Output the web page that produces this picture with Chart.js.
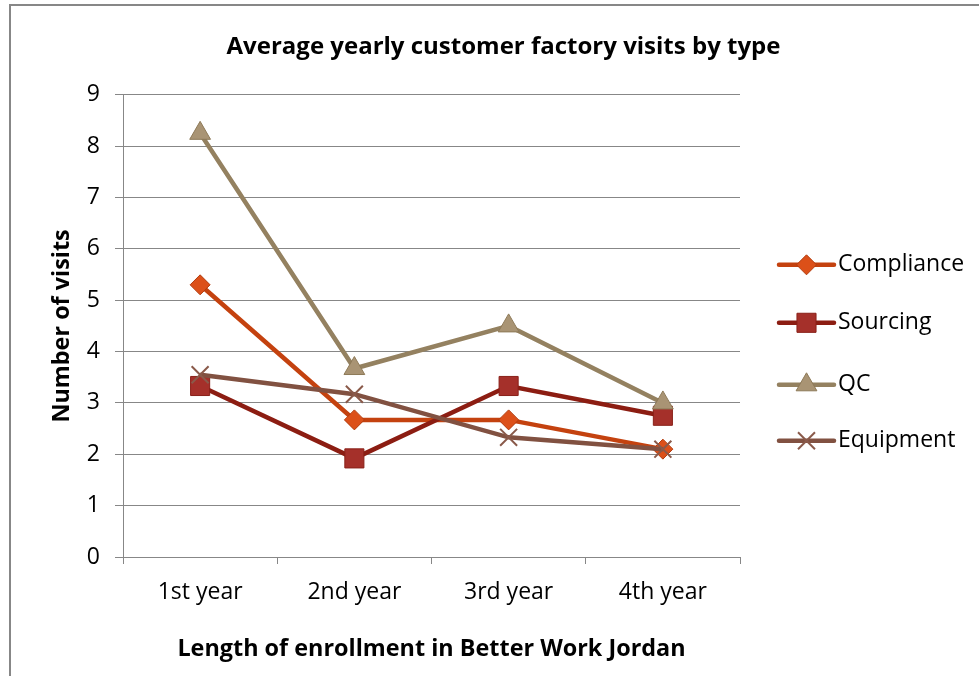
<!DOCTYPE html>
<html>
<head>
<meta charset="utf-8">
<script src="https://cdn.jsdelivr.net/npm/chart.js@4/dist/chart.umd.min.js"></script>
<style>
  html, body { margin: 0; padding: 0; background: #ffffff; overflow: hidden; }
  #frame {
    position: absolute; left: 9px; top: 4px;
    width: 985px; height: 690px;
    border: 2px solid #878787;
    background: #ffffff;
  }
  #chart { display: block; }
</style>
</head>
<body>
<div id="frame"><canvas id="chart" width="985" height="690"></canvas></div>
<script>
// Average yearly customer factory visits, by visit type and length of enrollment
const years = ['1st year', '2nd year', '3rd year', '4th year'];
const compliance = [5.3, 2.67, 2.67, 2.1];
const sourcing = [3.33, 1.92, 3.33, 2.75];
const qc = [8.25, 3.67, 4.5, 3.0];
const equipment = [3.55, 3.17, 2.33, 2.1];
const seriesNames = ['Compliance', 'Sourcing', 'QC', 'Equipment'];

const FONT = '"Open Sans", sans-serif';
const GRID = '#878787';
const TICK_SIZE = 23;
const AXIS_TITLE_SIZE = 23.4;
const TITLE_SIZE = 24;

const styles = [
  { line: '#C4420F', fill: '#DC5019', edge: '#B23C0E', shape: 'rectRot', r: 10, bw: 1 },
  { line: '#8C1D12', fill: '#A5302A', edge: '#8A2119', shape: 'rect', r: 13.5, bw: 1 },
  { line: '#948160', fill: '#A99474', edge: '#8E7A58', shape: 'triangle', r: 12, bw: 1 },
  { line: '#815141', fill: '#8A5A4A', edge: '#8A5A4A', shape: 'crossRot', r: 12, bw: 2 }
];
const values = [compliance, sourcing, qc, equipment];

const datasets = values.map((v, i) => ({
  label: seriesNames[i],
  data: v,
  yAxisID: 'y',
  borderColor: styles[i].line,
  borderWidth: 4.5,
  pointStyle: styles[i].shape,
  pointRadius: styles[i].r,
  pointHoverRadius: styles[i].r,
  pointBackgroundColor: styles[i].fill,
  pointBorderColor: styles[i].edge,
  pointBorderWidth: styles[i].bw,
  tension: 0,
  fill: false,
  order: values.length - i
}));

// Legend on the right: a line segment with the series marker, then the name
const sideLegend = {
  id: 'sideLegend',
  afterDraw(chart) {
    const { ctx, chartArea } = chart;
    const x0 = chartArea.right + 39;
    const len = 55;
    const rows = [170, 228, 290, 346];
    chart.data.datasets.forEach((ds, i) => {
      const y = chartArea.top + rows[i];
      ctx.save();
      ctx.strokeStyle = ds.borderColor;
      ctx.lineWidth = 4.5;
      ctx.lineCap = 'round';
      ctx.beginPath();
      ctx.moveTo(x0, y);
      ctx.lineTo(x0 + len, y);
      ctx.stroke();
      ctx.lineCap = 'butt';
      ctx.fillStyle = ds.pointBackgroundColor;
      ctx.strokeStyle = ds.pointBorderColor;
      ctx.lineWidth = ds.pointBorderWidth;
      Chart.helpers.drawPoint(ctx, {
        pointStyle: ds.pointStyle,
        radius: ds.pointRadius,
        borderWidth: ds.pointBorderWidth
      }, x0 + len / 2, y);
      ctx.fillStyle = '#000000';
      ctx.font = TICK_SIZE + 'px ' + FONT;
      ctx.textAlign = 'left';
      ctx.textBaseline = 'middle';
      ctx.fillText(ds.label, x0 + len + 4, y);
      ctx.restore();
    });
  }
};

new Chart(document.getElementById('chart'), {
  type: 'line',
  data: { labels: years, datasets },
  options: {
    responsive: false,
    animation: false,
    layout: { padding: 0 },
    plugins: {
      legend: { display: false },
      tooltip: { enabled: false },
      title: {
        display: true,
        text: 'Average yearly customer factory visits by type',
        color: '#000000',
        font: { family: FONT, size: TITLE_SIZE, weight: 'bold', lineHeight: 1.2 },
        padding: { top: 27, bottom: 33 }
      }
    },
    scales: {
      x: {
        offset: true,
        grid: {
          offset: true,
          drawOnChartArea: false,
          drawTicks: true,
          tickLength: 7,
          color: GRID
        },
        border: { color: GRID, width: 1 },
        ticks: {
          color: '#000000',
          padding: 15,
          maxRotation: 0,
          font: { family: FONT, size: TICK_SIZE }
        },
        title: {
          display: true,
          text: 'Length of enrollment in Better Work Jordan',
          color: '#000000',
          font: { family: FONT, size: AXIS_TITLE_SIZE, weight: 'bold', lineHeight: 1.2 },
          padding: { top: 0, bottom: 33 }
        },
        afterFit(scale) { scale.height = 139; }
      },
      y: {
        position: 'left',
        min: 0,
        max: 9,
        grid: {
          color: GRID,
          lineWidth: 1,
          drawTicks: true,
          tickLength: 8
        },
        border: { color: GRID, width: 1 },
        ticks: {
          stepSize: 1,
          color: '#000000',
          padding: 15,
          font: { family: FONT, size: TICK_SIZE }
        },
        title: {
          display: true,
          text: 'Number of visits',
          color: '#000000',
          font: { family: FONT, size: AXIS_TITLE_SIZE, weight: 'bold', lineHeight: 1.2 },
          padding: { top: 37, bottom: 0 }
        },
        afterFit(scale) { scale.width = 112; }
      },
      // empty right-hand column that holds the legend
      side: {
        position: 'right',
        min: 0,
        max: 1,
        grid: { display: false, drawTicks: false },
        border: { display: false },
        ticks: { display: false },
        afterFit(scale) { scale.width = 256; }
      }
    }
  },
  plugins: [sideLegend]
});
</script>
</body>
</html>
